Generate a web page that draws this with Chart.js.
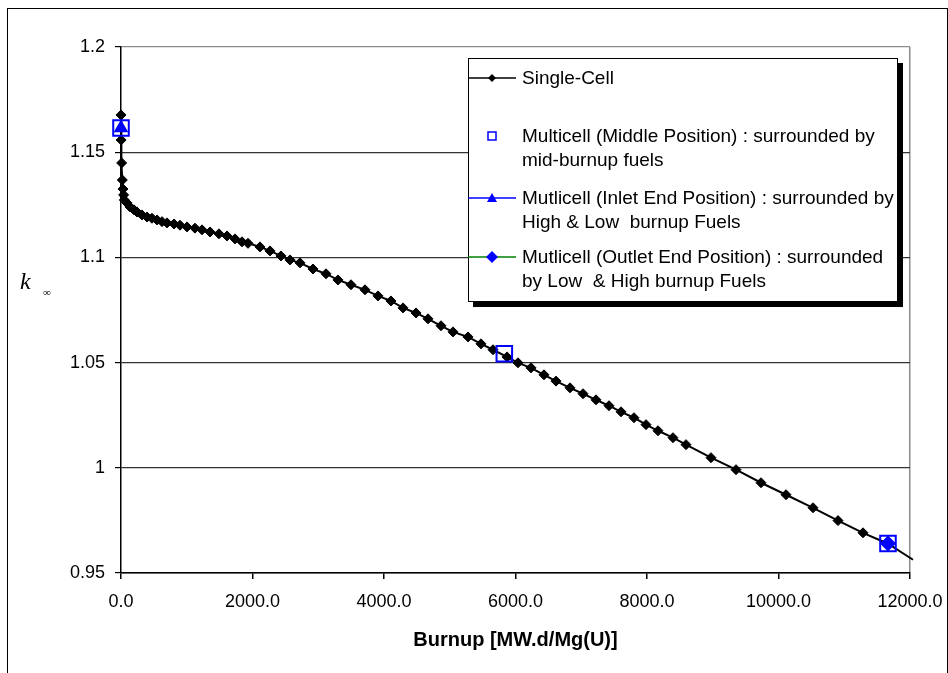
<!DOCTYPE html>
<html>
<head>
<meta charset="utf-8">
<script src="https://cdn.jsdelivr.net/npm/chart.js@4/dist/chart.umd.min.js"></script>
<style>
  html, body { margin: 0; padding: 0; background: #fff; }
  #wrap { position: relative; width: 948px; height: 673px; overflow: hidden; font-family: 'Liberation Sans', Arial, sans-serif; }
  #frame { position: absolute; left: 7px; top: 8px; width: 939px; height: 700px; border: 1px solid #000; }
  canvas { position: absolute; left: 0; top: 0; }
  #legend { position: absolute; left: 468px; top: 58px; width: 428px; height: 242px; border: 1px solid #000;
            background: #fff; box-shadow: 5px 5px 0 #000; font-size: 19px; color: #000; }
  .item { position: absolute; left: 0; }
  .item svg { position: absolute; left: -1px; top: 0; }
  .item span { position: absolute; left: 53px; top: 0; line-height: 24px; white-space: nowrap; }
  #ytitle { position: absolute; left: 20px; top: 268px; font-family: 'Liberation Serif', 'Times New Roman', serif;
            font-style: italic; font-size: 24px; color: #000; }
  #ysub { position: absolute; left: 43px; top: 286px; font-family: 'Liberation Serif', serif; font-size: 11px; color: #000; }
</style>
</head>
<body>
<div id="wrap">
  <div id="frame"></div>
  <canvas id="chart" width="948" height="673"></canvas>
  <div id="ytitle">k</div>
  <div id="ysub">∞</div>
  <div id="legend">
    <div class="item" style="top:7px">
      <svg width="50" height="24"><line x1="0" y1="12" x2="48" y2="12" stroke="#000" stroke-width="1.5"/><polygon points="24,8 28,12 24,16 20,12" fill="#000"/></svg>
      <span>Single-Cell</span>
    </div>
    <div class="item" style="top:65px">
      <svg width="50" height="24"><rect x="20" y="8" width="8" height="8" fill="#fff" stroke="#0000ff" stroke-width="1.5"/></svg>
      <span>Multicell (Middle Position) : surrounded by<br>mid-burnup fuels</span>
    </div>
    <div class="item" style="top:127px">
      <svg width="50" height="24"><line x1="0" y1="12" x2="48" y2="12" stroke="#0000ff" stroke-width="1.5"/><polygon points="24,7 29,16 19,16" fill="#0000ff"/></svg>
      <span>Mutlicell (Inlet End Position) : surrounded by<br>High &amp; Low&nbsp; burnup Fuels</span>
    </div>
    <div class="item" style="top:186px">
      <svg width="50" height="24"><line x1="0" y1="12" x2="48" y2="12" stroke="#008000" stroke-width="1.5"/><polygon points="24,6 30,12 24,18 18,12" fill="#0000ff"/></svg>
      <span>Mutlicell (Outlet End Position) : surrounded<br>by Low&nbsp; &amp; High burnup Fuels</span>
    </div>
  </div>
</div>
<script>
// --- 数据 ---
const singleBurnup = [0, 2, 10, 20, 30, 40, 50, 91, 137, 198, 243, 319, 395, 471, 548, 624, 700,
    806, 897, 1004, 1125, 1232, 1354, 1490, 1612, 1734, 1840, 1932, 2114, 2266, 2433, 2570, 2722,
    2920, 3118, 3300, 3498, 3711, 3909, 4106, 4289, 4487, 4669, 4867, 5049, 5278, 5475, 5658, 5871,
    6038, 6236, 6433, 6616, 6829, 7027, 7224, 7422, 7605, 7802, 7985, 8167, 8395, 8593, 8973, 9354,
    9734, 10114, 10525, 10905, 11285, 11665, 12046];
const singleK = [1.1677, 1.1558, 1.1449, 1.1368, 1.1325, 1.1297, 1.1273, 1.1259, 1.1240, 1.1226,
    1.1216, 1.1202, 1.1192, 1.1186, 1.1178, 1.1170, 1.1164, 1.1159, 1.1153, 1.1145, 1.1139, 1.1131,
    1.1121, 1.1112, 1.1102, 1.1088, 1.1074, 1.1067, 1.1050, 1.1031, 1.1007, 1.0988, 1.0974, 1.0945,
    1.0922, 1.0893, 1.0870, 1.0846, 1.0817, 1.0793, 1.0760, 1.0736, 1.0708, 1.0675, 1.0646, 1.0622,
    1.0589, 1.0561, 1.0527, 1.0499, 1.0475, 1.0442, 1.0412, 1.0380, 1.0352, 1.0323, 1.0295, 1.0266,
    1.0238, 1.0205, 1.0176, 1.0143, 1.0110, 1.0048, 0.9991, 0.9929, 0.9872, 0.9810, 0.9749, 0.9691,
    0.9639, 0.9563];

const middleBurnup = [0, 5830, 11665];
const middleK = [1.1615, 1.0542, 0.9640];
const inletBurnup = [0];
const inletK = [1.1615];
const outletBurnup = [11665];
const outletK = [0.9640];

const xTicks = [0, 2000, 4000, 6000, 8000, 10000, 12000];
const yTicks = [0.95, 1, 1.05, 1.1, 1.15, 1.2];

const toPoints = (xs, ys) => xs.map((x, i) => ({ x: x, y: ys[i] }));

Chart.defaults.font.family = "'Liberation Sans', Arial, sans-serif";
Chart.defaults.font.size = 18;
Chart.defaults.color = '#000';

const lastIdx = singleBurnup.length - 1;

new Chart(document.getElementById('chart'), {
    type: 'scatter',
    data: {
        datasets: [
            { label: 'Multicell (Middle Position)', data: toPoints(middleBurnup, middleK), showLine: false,
              pointStyle: 'rect', pointRadius: 11, pointBorderWidth: 2, borderColor: '#0000ff',
              backgroundColor: 'rgba(0,0,0,0)', clip: false, order: 0 },
            { label: 'Mutlicell (Inlet End Position)', data: toPoints(inletBurnup, inletK), showLine: true,
              pointStyle: 'triangle', pointRadius: 7, borderColor: '#0000ff', backgroundColor: '#0000ff',
              borderWidth: 1.5, clip: false, order: 1 },
            { label: 'Mutlicell (Outlet End Position)', data: toPoints(outletBurnup, outletK), showLine: true,
              pointStyle: 'rectRot', pointRadius: 7, borderColor: '#008000', pointBorderColor: '#0000ff',
              backgroundColor: '#0000ff', borderWidth: 1.5, clip: false, order: 2 },
            { label: 'Single-Cell', data: toPoints(singleBurnup, singleK), showLine: true,
              borderColor: '#000', backgroundColor: '#000', borderWidth: 2,
              pointStyle: 'rectRot', pointRadius: ctx => ctx.dataIndex === lastIdx ? 0 : 5,
              pointBorderWidth: 1, clip: false, order: 3 }
        ]
    },
    options: {
        responsive: false,
        animation: false,
        layout: { padding: { left: 0, top: 47, right: 38, bottom: 0 } },
        plugins: { legend: { display: false }, tooltip: { enabled: false } },
        scales: {
            x: {
                type: 'linear', min: 0, max: 12000,
                afterBuildTicks: s => { s.ticks = xTicks.map(v => ({ value: v })); },
                afterFit: s => { s.height = 100; s.paddingRight = 0; s.paddingLeft = 0; },
                ticks: { callback: v => v.toFixed(1), padding: 12, maxRotation: 0, color: '#000' },
                grid: {
                    color: c => (c.tick && c.tick.value === 12000) ? '#8c8c8c' : 'rgba(0,0,0,0)',
                    tickColor: '#000', tickLength: 6, lineWidth: 1.5
                },
                border: { color: '#000', width: 1.5 },
                title: { display: true, text: 'Burnup [MW.d/Mg(U)]', font: { weight: 'bold', size: 20 },
                         padding: { top: 0, bottom: 21 }, color: '#000' }
            },
            y: {
                type: 'linear', min: 0.95, max: 1.2,
                afterBuildTicks: s => { s.ticks = yTicks.map(v => ({ value: v })); },
                afterFit: s => { s.width = 121; },
                ticks: { callback: v => String(parseFloat(Number(v).toFixed(2))), padding: 10, color: '#000' },
                grid: {
                    color: c => (c.tick && Math.abs(c.tick.value - 1.2) < 1e-6) ? '#8c8c8c' : '#333',
                    tickColor: '#000', tickLength: 6, lineWidth: 1.2
                },
                border: { color: '#000', width: 1.5 }
            }
        }
    }
});
</script>
</body>
</html>
